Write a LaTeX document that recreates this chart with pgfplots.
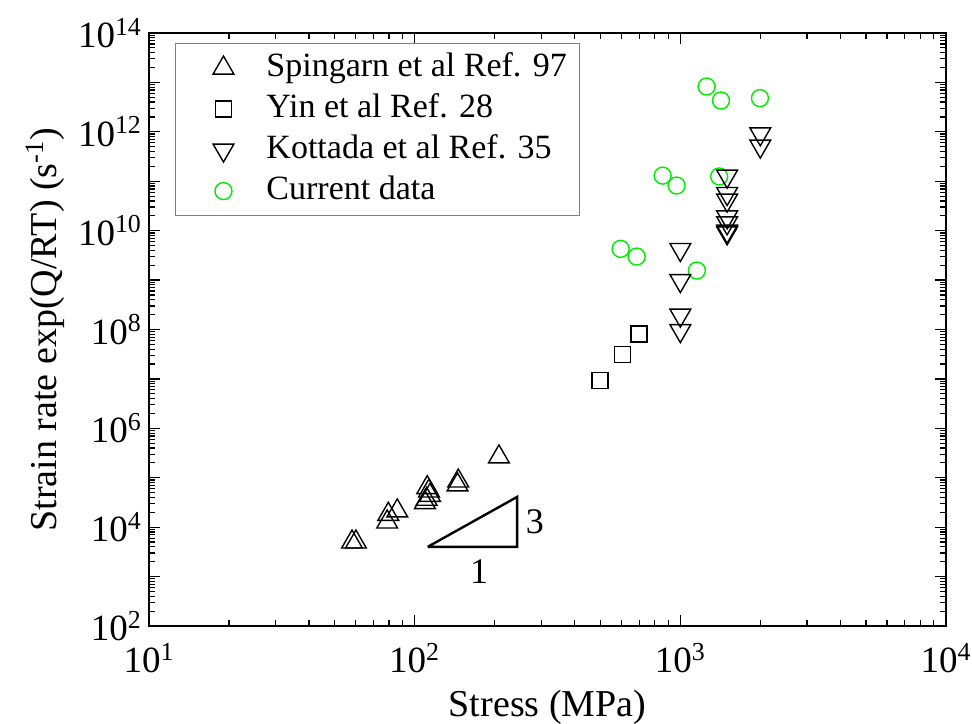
\documentclass[border=0pt]{standalone}
\usepackage{fontspec}
\setmainfont{Liberation Serif}
\usepackage{pgfplots}
\pgfplotsset{compat=1.18}
\definecolor{cgreen}{RGB}{0,235,0}
\pgfplotsset{mylegimg/.style={legend image code/.code={\path[draw=none,fill=none] (0pt,0pt) -- (39pt,0pt);\draw[##1, only marks] plot coordinates {(19.5pt,0pt)};}}}
\begin{document}
\begin{tikzpicture}
\begin{axis}[
  xmode=log, ymode=log,
  scale only axis, width=398.5pt, height=296.5pt,
  xmin=10, xmax=10000, ymin=1e2, ymax=1e14,
  xminorticks=false, yminorticks=false,
  xtick={20,30,40,50,60,70,80,90,200,300,400,500,600,700,800,900,2000,3000,4000,5000,6000,7000,8000,9000},
  xticklabels={},
  ytick={2e2,3e2,4e2,5e2,6e2,7e2,8e2,9e2,
    2e3,3e3,4e3,5e3,6e3,7e3,8e3,9e3,
    2e4,3e4,4e4,5e4,6e4,7e4,8e4,9e4,
    2e5,3e5,4e5,5e5,6e5,7e5,8e5,9e5,
    2e6,3e6,4e6,5e6,6e6,7e6,8e6,9e6,
    2e7,3e7,4e7,5e7,6e7,7e7,8e7,9e7,
    2e8,3e8,4e8,5e8,6e8,7e8,8e8,9e8,
    2e9,3e9,4e9,5e9,6e9,7e9,8e9,9e9,
    2e10,3e10,4e10,5e10,6e10,7e10,8e10,9e10,
    2e11,3e11,4e11,5e11,6e11,7e11,8e11,9e11,
    2e12,3e12,4e12,5e12,6e12,7e12,8e12,9e12,
    2e13,3e13,4e13,5e13,6e13,7e13,8e13,9e13},
  yticklabels={},
  extra x ticks={10,100,1000,10000},
  extra x tick labels={10\textsuperscript{1},10\textsuperscript{2},10\textsuperscript{3},10\textsuperscript{4}},
  extra y ticks={1e2,1e3,1e4,1e5,1e6,1e7,1e8,1e9,1e10,1e11,1e12,1e13,1e14},
  extra y tick labels={10\textsuperscript{2},,10\textsuperscript{4},,10\textsuperscript{6},,10\textsuperscript{8},,10\textsuperscript{10},,10\textsuperscript{12},,10\textsuperscript{14}},
  extra tick style={major tick length=5.5pt},
  tick label style={font=\fontsize{18.5}{22}\selectfont},
  xticklabel style={yshift=-5pt},
  label style={font=\fontsize{19}{22}\selectfont},
  xlabel={Stress (MPa)},
  xlabel style={yshift=-1.5pt},
  ylabel={Strain rate exp(Q/RT) (s\textsuperscript{-1})},
  axis line style={line width=1pt},
  major tick length=3pt,
  every tick/.style={black, line width=0.6pt},
  legend style={at={(0.0326,0.983)}, anchor=north west, draw=gray, line width=0.5pt,
    font=\fontsize{17}{20}\selectfont, inner xsep=4.5pt, inner ysep=2pt,
    nodes={inner sep=2pt, text height=12.5pt, text depth=4pt}},
  legend cell align=left,
]
% Spingarn et al Ref. 97
\addplot[only marks, mylegimg, mark=triangle, mark size=6pt, mark options={fill=white, draw=black, line width=0.7pt}] coordinates {
(58.1,5000) (60.1,5000) (78.8,12700) (79.6,18200) (86.0,21300)
(109.3,31300) (110.9,36700) (114.2,44000) (113.2,54000) (111.5,63000)
(145,71500) (145.9,86000) (207.6,264000)
};
\addlegendentry{Spingarn et al Ref. 97}
% Yin et al Ref. 28
\addplot[only marks, mylegimg, mark=square, mark size=4pt, mark options={fill=white, draw=black, line width=0.7pt}] coordinates {
(498,9.24e6) (606.5,3.16e7) (700,8.15e7)
};
\addlegendentry{Yin et al Ref. 28}
% Current data (drawn before Kottada)
\addplot[forget plot, only marks, mark=o, mark size=4.25pt, mark options={fill=white, draw=cgreen, line width=0.7pt}] coordinates {
(596,4.28e9) (685,2.99e9) (1154,1.56e9) (858,1.30e11) (968,8.19e10)
(1400,1.25e11) (1256,8.26e12) (1422,4.3e12) (1994,4.81e12)
};
% Kottada et al Ref. 35
\addplot[only marks, mylegimg, mark=triangle, mark size=6pt, mark options={rotate=180, fill=white, draw=black, line width=0.7pt}] coordinates {
(1000,4.15e9) (1000,9.77e8) (1000,1.95e8) (1000,9.5e7)
(2000,9.1e11) (2000,5.14e11)
(1500,1.27e11) (1500,5.64e10) (1500,4.14e10) (1500,1.90e10) (1500,1.44e10) (1500,9.77e9) (1500,9.0e9)
};
\addlegendentry{Kottada et al Ref. 35}
\addlegendimage{only marks, mylegimg, mark=o, mark size=4.25pt, mark options={fill=white, draw=cgreen, line width=0.7pt}}
\addlegendentry{Current data}
% slope triangle
\addplot[forget plot, black, line width=1.2pt, line join=miter, no marks] coordinates {
(112,4000) (243,4000) (243,40900) (112,4000)
};
\node[font=\fontsize{18}{20}\selectfont] at (axis cs:283.6,1.29e4) {3};
\node[font=\fontsize{18}{20}\selectfont] at (axis cs:175,1256) {1};
\end{axis}
\pgfresetboundingbox
\path ([shift={(-74.5pt,-49pt)}]current axis.south west) rectangle ([shift={(13pt,16.5pt)}]current axis.north east);
\end{tikzpicture}
\end{document}
